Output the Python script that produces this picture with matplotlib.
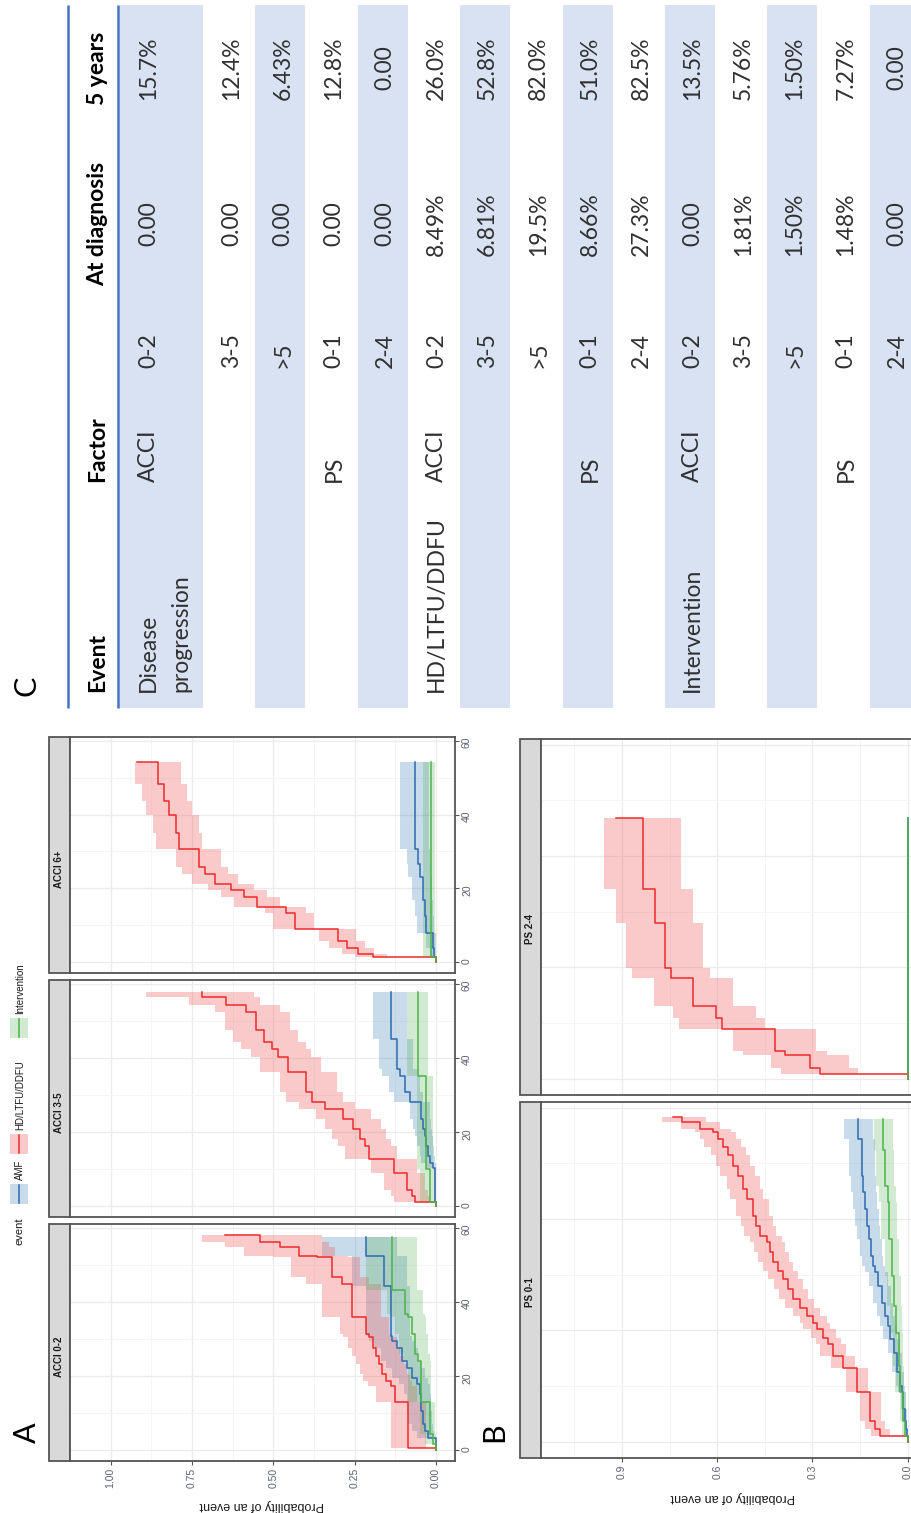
import numpy as np
import matplotlib.pyplot as plt
from matplotlib.patches import Rectangle

# ---------------- panel C table ----------------
events = ['Disease\nprogression', '', '', '', '',
          'HD/LTFU/DDFU', '', '', '', '',
          'Intervention', '', '', '', '']
factors = ['ACCI', '', '', 'PS', '', 'ACCI', '', '', 'PS', '', 'ACCI', '', '', 'PS', '']
levels = ['0-2', '3-5', '>5', '0-1', '2-4'] * 3
at_diagnosis = ['0.00', '0.00', '0.00', '0.00', '0.00',
                '8.49%', '6.81%', '19.5%', '8.66%', '27.3%',
                '0.00', '1.81%', '1.50%', '1.48%', '0.00']
five_years = ['15.7%', '12.4%', '6.43%', '12.8%', '0.00',
              '26.0%', '52.8%', '82.0%', '51.0%', '82.5%',
              '13.5%', '5.76%', '1.50%', '7.27%', '0.00']
headers = ['Event', 'Factor', 'At diagnosis', '5 years']

# ---------------- cumulative incidence curves ----------------
event_names = ['AMF', 'HD/LTFU/DDFU', 'Intervention']
prob_ticks_a = [0, 0.25, 0.5, 0.75, 1.0]
prob_labels_a = ['0.00', '0.25', '0.50', '0.75', '1.00']
prob_ticks_b = [0, 0.3, 0.6, 0.9]
prob_labels_b = ['0.0', '0.3', '0.6', '0.9']
time_ticks = [0, 20, 40, 60]

# ACCI 0-2
acci02_amf_t = [0, 3.4, 5.2, 7.0, 10.6, 15.1, 17.8, 19.6, 22.3, 24.1, 27.7, 29.5, 30.9, 44.2, 52.5, 57.6]
acci02_amf_est = [0, .025, .035, .04, .045, .05, .06, .075, .09, .105, .12, .135, .14, .16, .215, .215]
acci02_amf_lo = [0, .005, .01, .012, .015, .018, .025, .035, .045, .055, .065, .075, .08, .09, .12, .12]
acci02_amf_hi = [0, .06, .075, .085, .09, .10, .115, .135, .155, .17, .19, .205, .215, .26, .35, .35]

acci02_hd_t = [0, 0.7, 12.9, 17.4, 18.7, 20.5, 23.2, 25.5, 27.7, 30.5, 31.4, 35.9, 44.9, 46.7, 52.1, 52.5, 54.8, 56.1, 57.9]
acci02_hd_est = [0, .085, .125, .14, .155, .165, .175, .185, .195, .205, .215, .26, .29, .32, .365, .42, .48, .54, .65]
acci02_hd_lo = [0, .03, .06, .075, .08, .09, .10, .11, .12, .135, .145, .17, .205, .235, .27, .31, .33, .35, .35]
acci02_hd_hi = [0, .14, .185, .21, .225, .235, .245, .26, .27, .285, .295, .35, .40, .445, .50, .59, .65, .72, .72]

acci02_int_t = [0, 1.6, 4.3, 12.9, 24.1, 25.9, 31.4, 35.9, 36.8, 43.1, 57.6]
acci02_int_est = [0, .01, .02, .045, .055, .065, .075, .085, .095, .135, .135]
acci02_int_lo = [0, 0, .003, .015, .02, .025, .03, .035, .04, .06, .06]
acci02_int_hi = [0, .035, .05, .085, .10, .115, .125, .14, .15, .215, .215]

# ACCI 3-5
acci35_amf_t = [0, 1.1, 10.4, 11.7, 13.5, 16.2, 19.0, 20.8, 23.5, 28.0, 30.7, 35.2, 37.0, 45.1, 57.8]
acci35_amf_est = [0, .002, .01, .02, .025, .03, .035, .04, .047, .08, .095, .11, .12, .14, .14]
acci35_amf_lo = [0, 0, .001, .004, .006, .009, .012, .015, .018, .04, .05, .06, .07, .09, .09]
acci35_amf_hi = [0, .006, .03, .045, .05, .06, .065, .07, .08, .13, .145, .165, .175, .195, .195]

acci35_hd_t = [0, 1.1, 2.7, 4.5, 9.0, 12.8, 16.2, 18.0, 20.8, 23.5, 26.2, 28.0, 30.7, 36.1, 40.2, 42.4, 44.2, 47.4, 52.3, 54.2, 56.4, 57.8]
acci35_hd_est = [0, .065, .075, .09, .13, .205, .22, .235, .255, .285, .34, .38, .40, .455, .485, .505, .53, .555, .585, .645, .72, .72]
acci35_hd_lo = [0, .02, .025, .035, .06, .12, .14, .155, .17, .20, .25, .285, .305, .355, .385, .40, .425, .45, .48, .54, .56, .56]
acci35_hd_hi = [0, .13, .14, .16, .20, .28, .30, .32, .34, .37, .42, .46, .48, .54, .57, .60, .625, .65, .68, .76, .89, .89]

acci35_int_t = [0, 1.1, 10.0, 35.2, 57.8]
acci35_int_est = [0, .02, .03, .055, .055]
acci35_int_lo = [0, .004, .01, .025, .025]
acci35_int_hi = [0, .05, .06, .09, .09]

# ACCI 6+
acci6_amf_t = [0, 1.3, 4.0, 8.0, 12.4, 16.9, 23.1, 26.7, 30.7, 54.2]
acci6_amf_est = [0, .005, .01, .03, .035, .04, .05, .055, .065, .065]
acci6_amf_lo = [0, 0, .001, .008, .01, .012, .016, .018, .022, .022]
acci6_amf_hi = [0, .02, .03, .06, .065, .075, .085, .09, .11, .11]

acci6_hd_t = [0, 1.3, 2.2, 4.0, 5.8, 9.1, 13.3, 15.1, 17.8, 19.6, 21.3, 24.0, 25.8, 30.7, 35.1, 40.0, 43.6, 48.4, 54.2]
acci6_hd_est = [0, .195, .24, .275, .30, .435, .46, .55, .59, .63, .68, .71, .73, .79, .80, .82, .835, .855, .92]
acci6_hd_lo = [0, .15, .19, .22, .245, .375, .40, .48, .52, .56, .61, .64, .66, .72, .73, .75, .765, .785, .785]
acci6_hd_hi = [0, .25, .29, .33, .36, .50, .525, .62, .66, .70, .75, .78, .80, .86, .87, .89, .905, .925, .925]

acci6_int_t = [0, 1.3, 54.2]
acci6_int_est = [0, .015, .015]
acci6_int_lo = [0, .002, .002]
acci6_int_hi = [0, .04, .04]

# PS 0-1
ps01_amf_t = [0, .96, 2.3, 3.8, 5.9, 8.9, 10.1, 12.5, 16.0, 18.4, 20.8, 22.6, 25.0, 28.0, 30.4, 31.6, 33.4, 36.4, 38.8, 41.8, 44.8, 47.8, 54.4, 58.0]
ps01_amf_est = [0, .002, .004, .009, .013, .019, .024, .033, .044, .055, .063, .07, .081, .092, .102, .11, .116, .123, .128, .134, .139, .144, .155, .155]
ps01_amf_lo = [0, 0, .001, .003, .005, .008, .011, .017, .025, .033, .039, .045, .053, .062, .07, .076, .081, .087, .091, .096, .10, .104, .11, .11]
ps01_amf_hi = [0, .006, .009, .016, .022, .03, .037, .049, .063, .077, .087, .095, .109, .122, .134, .144, .151, .159, .165, .172, .178, .184, .20, .20]

ps01_hd_t = [0, .96, 2.3, 3.8, 8.9, 13.2, 15.4, 17.5, 18.7, 20.2, 21.4, 22.6, 24.1, 25.6, 27.4, 29.2, 30.7, 32.2, 34.0, 35.8, 37.0, 38.8, 40.6, 43.6, 45.4, 47.8, 49.6, 51.4, 52.9, 54.4, 55.6, 56.2, 57.4, 58.3]
ps01_hd_est = [0, .086, .102, .118, .16, .202, .234, .25, .265, .286, .297, .318, .339, .36, .376, .392, .407, .423, .434, .444, .465, .476, .486, .507, .518, .534, .549, .565, .581, .597, .613, .655, .71, .74]
ps01_hd_lo = [0, .055, .07, .085, .125, .165, .195, .21, .225, .245, .255, .275, .295, .315, .33, .345, .36, .375, .385, .395, .415, .425, .435, .455, .465, .48, .495, .51, .525, .54, .555, .59, .635, .66]
ps01_hd_hi = [0, .115, .135, .15, .195, .24, .275, .29, .305, .33, .34, .36, .385, .405, .42, .44, .455, .47, .485, .495, .515, .525, .54, .56, .57, .59, .605, .62, .64, .655, .67, .715, .775, .80]

ps01_int_t = [0, .96, 3.8, 8.9, 13.7, 19.6, 24.4, 29.8, 36.4, 43.0, 46.0, 52.3, 58.0]
ps01_int_est = [0, .007, .013, .023, .028, .036, .042, .049, .057, .063, .07, .076, .076]
ps01_int_lo = [0, .001, .004, .01, .013, .018, .022, .027, .033, .037, .042, .046, .046]
ps01_int_hi = [0, .016, .025, .038, .045, .056, .064, .072, .083, .09, .098, .105, .105]

# PS 2-4
ps24_amf_t = [0, 46.9]
ps24_amf_est = [0, 0]
ps24_amf_lo = [0, 0]
ps24_amf_hi = [0, 0]

ps24_hd_t = [0, .95, 1.97, 4.2, 4.95, 8.95, 10.9, 13.0, 18.1, 19.9, 28.0, 34.0, 46.9]
ps24_hd_est = [0, .276, .307, .386, .418, .586, .602, .676, .744, .765, .797, .834, .918]
ps24_hd_lo = [0, .155, .186, .255, .29, .45, .476, .55, .623, .644, .676, .713, .713]
ps24_hd_hi = [0, .40, .43, .52, .55, .72, .74, .80, .867, .886, .918, .955, .955]

ps24_int_t = [0, 46.9]
ps24_int_est = [0, 0]
ps24_int_lo = [0, 0]
ps24_int_hi = [0, 0]

line_colors = ['#2F6AAE', '#EE2A2A', '#4CB349']
fill_colors = ['#377EB8', '#F26565', '#4DAF4A']
fill_alpha = [0.28, 0.35, 0.25]

W, H = 912, 1513
fig = plt.figure(figsize=(W / 100, H / 100), dpi=100)
plot_font = 'Liberation Sans'
table_font = 'Lato'


def rect(x0, y0, x1, y1):
    return [x0 / W, 1 - y1 / H, (x1 - x0) / W, (y1 - y0) / H]


ov = fig.add_axes([0, 0, 1, 1])
ov.set_xlim(0, W)
ov.set_ylim(H, 0)
ov.axis('off')

# ---- table ----
row_top = 119
first_row_end = 203.5
row_h = 51.2
band_y0, band_y1 = 5, 708
for i in range(len(levels)):
    if i == 0:
        x0, x1 = row_top, first_row_end
    else:
        x0 = first_row_end + (i - 1) * row_h
        x1 = x0 + row_h
    if i % 2 == 0:
        ov.add_patch(Rectangle((x0 + 0.6, band_y0), x1 - x0 - 1.2, band_y1 - band_y0,
                               fc='#D9E2F3', ec='none'))
    base = 155 if i == 0 else (x0 + x1) / 2 + 9
    kw = dict(rotation=90, rotation_mode='anchor', va='baseline',
              fontsize=16.5, family=table_font, color='#303030')
    for j, line in enumerate(events[i].split('\n')):
        if line:
            ov.text(base + j * 32, 692, line, ha='left', **kw)
    if factors[i]:
        ov.text(base, 482, factors[i], ha='left', **kw)
    ov.text(base, 368, levels[i], ha='left', **kw)
    ov.text(base, 224, at_diagnosis[i], ha='center', **kw)
    ov.text(base, 68, five_years[i], ha='center', **kw)

hkw = dict(rotation=90, rotation_mode='anchor', va='baseline', fontsize=16.5,
           family=table_font, fontweight='bold', color='black')
ov.text(104, 692, headers[0], ha='left', **hkw)
ov.text(104, 482, headers[1], ha='left', **hkw)
ov.text(104, 224, headers[2], ha='center', **hkw)
ov.text(104, 68, headers[3], ha='center', **hkw)
ov.plot([68, 68], [band_y0, band_y1], color='#4472C4', lw=1.8, solid_capstyle='butt')
ov.plot([118.5, 118.5], [band_y0, band_y1], color='#4472C4', lw=1.8, solid_capstyle='butt')

# panel letters
for letter, x, y in [('A', 27, 1433), ('B', 494, 1432), ('C', 27, 686)]:
    ov.text(x, y, letter, rotation=90, ha='center', va='center', fontsize=22,
            family=table_font, color='black')

# legend of panel A
ov.text(20, 1245, 'event', rotation=90, rotation_mode='anchor', ha='left', va='center',
        fontsize=8, family=plot_font, color='#1A1A1A')
for k, yc in zip(range(3), [1194, 1144, 1028]):
    ov.add_patch(Rectangle((10, yc - 10), 18, 20, fc=fill_colors[k], alpha=fill_alpha[k], ec='none'))
    ov.plot([19, 19], [yc - 9, yc + 9], color=line_colors[k], lw=1.1)
    ov.text(20, yc - 14, event_names[k], rotation=90, rotation_mode='anchor', ha='left',
            va='center', fontsize=7, family=plot_font, color='#1A1A1A')


def stair(t, v):
    t = np.asarray(t, float)
    v = np.asarray(v, float)
    return np.repeat(v, 2)[:-1], np.repeat(t, 2)[1:]


def facet(name, top, bottom, left, right, strip_w, plim, series,
          pticks, plabels, show_p, show_t, name_shift):
    ax = fig.add_axes(rect(left, top, right, bottom))
    ax.set_xlim(plim)
    ax.set_ylim(-2.9, 61.0)
    pmin = [(a + b) / 2 for a, b in zip(pticks[:-1], pticks[1:])]
    pmin.append(pticks[-1] + (pticks[1] - pticks[0]) / 2)
    ax.set_xticks(pticks)
    ax.set_xticks(pmin, minor=True)
    ax.set_xticklabels(plabels if show_p else [])
    ax.set_yticks(time_ticks)
    ax.set_yticks([10, 30, 50], minor=True)
    ax.set_yticklabels([str(v) for v in time_ticks] if show_t else [])
    ax.grid(which='major', color='#EBEBEB', lw=0.9)
    ax.grid(which='minor', color='#F4F4F4', lw=0.6)
    ax.set_axisbelow(True)
    for s in ax.spines.values():
        s.set_color('#555555')
        s.set_linewidth(1.3)
    ax.yaxis.tick_right()
    ax.tick_params(which='minor', length=0)
    ax.tick_params(axis='x', which='major', bottom=show_p, top=False, length=3,
                   color='#555555', labelsize=7.5, labelcolor='#5A6070', labelrotation=90, pad=2)
    ax.tick_params(axis='y', which='major', right=show_t, left=False, length=3,
                   color='#555555', labelsize=7.5, labelcolor='#5A6070', labelrotation=90, pad=2)
    for lab in ax.get_xticklabels() + ax.get_yticklabels():
        lab.set_family(plot_font)
    for k, (t, est, lo, hi) in enumerate(series):
        ax.fill_betweenx(t, lo, hi, step='post', color=fill_colors[k],
                         alpha=fill_alpha[k], lw=0)
    for k, (t, est, lo, hi) in enumerate(series):
        xs, ys = stair(t, est)
        ax.plot(xs, ys, color=line_colors[k], lw=1.1)
    ov.add_patch(Rectangle((left - strip_w, top), strip_w, bottom - top,
                           fc='#D9D9D9', ec='#555555', lw=1.3))
    ov.text(left - strip_w / 2, (top + bottom) / 2 + name_shift, name, rotation=90,
            ha='center', va='center', fontsize=7, fontweight='bold',
            family=plot_font, color='#1A1A1A')
    return ax


a_series = {
    'ACCI 0-2': [(acci02_amf_t, acci02_amf_est, acci02_amf_lo, acci02_amf_hi),
                 (acci02_hd_t, acci02_hd_est, acci02_hd_lo, acci02_hd_hi),
                 (acci02_int_t, acci02_int_est, acci02_int_lo, acci02_int_hi)],
    'ACCI 3-5': [(acci35_amf_t, acci35_amf_est, acci35_amf_lo, acci35_amf_hi),
                 (acci35_hd_t, acci35_hd_est, acci35_hd_lo, acci35_hd_hi),
                 (acci35_int_t, acci35_int_est, acci35_int_lo, acci35_int_hi)],
    'ACCI 6+': [(acci6_amf_t, acci6_amf_est, acci6_amf_lo, acci6_amf_hi),
                (acci6_hd_t, acci6_hd_est, acci6_hd_lo, acci6_hd_hi),
                (acci6_int_t, acci6_int_est, acci6_int_lo, acci6_int_hi)],
}
b_series = {
    'PS 0-1': [(ps01_amf_t, ps01_amf_est, ps01_amf_lo, ps01_amf_hi),
               (ps01_hd_t, ps01_hd_est, ps01_hd_lo, ps01_hd_hi),
               (ps01_int_t, ps01_int_est, ps01_int_lo, ps01_int_hi)],
    'PS 2-4': [(ps24_amf_t, ps24_amf_est, ps24_amf_lo, ps24_amf_hi),
               (ps24_hd_t, ps24_hd_est, ps24_hd_lo, ps24_hd_hi),
               (ps24_int_t, ps24_int_est, ps24_int_lo, ps24_int_hi)],
}

# panel A facets, stacked from the bottom
for name, (top, bottom) in zip(['ACCI 0-2', 'ACCI 3-5', 'ACCI 6+'],
                               [(1224, 1461), (980, 1217), (737, 973)]):
    facet(name, top, bottom, 70, 455, 21, (1.105, -0.058), a_series[name],
          prob_ticks_a, prob_labels_a, name == 'ACCI 0-2', True, 14)
ov.text(262, 1505, 'Probability of an event', rotation=180, ha='center', va='center',
        fontsize=9, family=plot_font, color='#1A1A1A')

# panel B facets
for name, (top, bottom) in zip(['PS 0-1', 'PS 2-4'], [(1102, 1458), (739, 1095)]):
    facet(name, top, bottom, 541, 925, 21, (1.155, -0.055), b_series[name],
          prob_ticks_b, prob_labels_b, name == 'PS 0-1', False, 12)
ov.text(733, 1497, 'Probability of an event', rotation=180, ha='center', va='center',
        fontsize=9, family=plot_font, color='#1A1A1A')

fig.savefig('out.png', dpi=100)
